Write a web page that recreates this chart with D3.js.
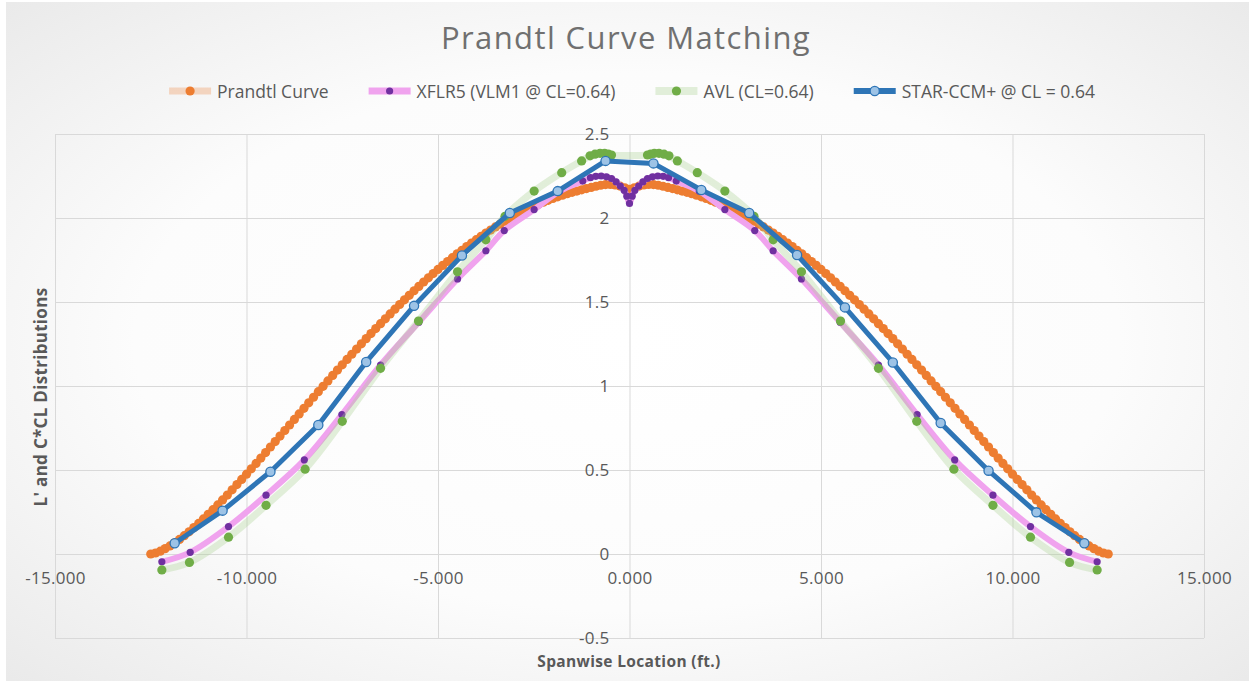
<!DOCTYPE html>
<html>
<head>
<meta charset="utf-8">
<script src="https://cdn.jsdelivr.net/npm/d3@7"></script>
<style>
  html, body { margin: 0; padding: 0; background: #ffffff; }
  svg { display: block; }
  text { font-family: "Open Sans", "Noto Sans", sans-serif; }
</style>
</head>
<body>
<svg id="chart" width="1253" height="684"></svg>
<script>
// ---- labels ----
const chartTitle = "Prandtl Curve Matching";
const xTitle = "Spanwise Location (ft.)";
const yTitle = "L' and C*CL Distributions";
const xTicks = [-15, -10, -5, 0, 5, 10, 15];
const yTicks = [-0.5, 0, 0.5, 1, 1.5, 2, 2.5];
const seriesNames = ["Prandtl Curve", "XFLR5 (VLM1 @ CL=0.64)", "AVL (CL=0.64)", "STAR-CCM+ @ CL = 0.64"];

// ---- Prandtl bell curve, stations every 0.125 ft from -12.5 to 12.5 ----
const prandtlX = d3.range(201).map(i => -12.5 + i * 0.125);
const prandtlY = [
  0, 0.006, 0.017, 0.032, 0.048, 0.067, 0.087, 0.109, 0.132, 0.157,
  0.182, 0.209, 0.236, 0.264, 0.292, 0.322, 0.351, 0.382, 0.413, 0.444,
  0.475, 0.507, 0.539, 0.571, 0.604, 0.637, 0.669, 0.702, 0.735, 0.768,
  0.801, 0.834, 0.867, 0.900, 0.933, 0.966, 0.998, 1.030, 1.063, 1.095,
  1.126, 1.158, 1.189, 1.220, 1.251, 1.282, 1.312, 1.342, 1.371, 1.400,
  1.429, 1.457, 1.485, 1.513, 1.540, 1.567, 1.593, 1.619, 1.644, 1.669,
  1.694, 1.718, 1.741, 1.764, 1.787, 1.808, 1.830, 1.851, 1.871, 1.891,
  1.910, 1.928, 1.947, 1.964, 1.981, 1.997, 2.013, 2.028, 2.042, 2.056,
  2.069, 2.082, 2.094, 2.105, 2.116, 2.126, 2.136, 2.145, 2.153, 2.160,
  2.168, 2.175, 2.182, 2.189, 2.195, 2.199, 2.200, 2.197, 2.190, 2.180,
  2.170,
  2.180, 2.190, 2.197, 2.200, 2.199, 2.195, 2.189, 2.182, 2.175, 2.168,
  2.160, 2.153, 2.145, 2.136, 2.126, 2.116, 2.105, 2.094, 2.082, 2.069,
  2.056, 2.042, 2.028, 2.013, 1.997, 1.981, 1.964, 1.947, 1.928, 1.910,
  1.891, 1.871, 1.851, 1.830, 1.808, 1.787, 1.764, 1.741, 1.718, 1.694,
  1.669, 1.644, 1.619, 1.593, 1.567, 1.540, 1.513, 1.485, 1.457, 1.429,
  1.400, 1.371, 1.342, 1.312, 1.282, 1.251, 1.220, 1.189, 1.158, 1.126,
  1.095, 1.063, 1.030, 0.998, 0.966, 0.933, 0.900, 0.867, 0.834, 0.801,
  0.768, 0.735, 0.702, 0.669, 0.637, 0.604, 0.571, 0.539, 0.507, 0.475,
  0.444, 0.413, 0.382, 0.351, 0.322, 0.292, 0.264, 0.236, 0.209, 0.182,
  0.157, 0.132, 0.109, 0.087, 0.067, 0.048, 0.032, 0.017, 0.006, 0
];

// ---- XFLR5 VLM1 ----
const xflrX = [
  -12.21, -11.47, -10.47, -9.49, -8.49, -7.51, -6.50, -5.50, -4.49, -3.75, -3.27, -2.49, -1.82, -1.22,
  -1.02, -0.88, -0.74, -0.60, -0.47, -0.35, -0.24, -0.14, -0.07, 0,
  0.07, 0.14, 0.24, 0.35, 0.47, 0.60, 0.74, 0.88, 1.02,
  1.22, 1.82, 2.49, 3.27, 3.75, 4.49, 5.50, 6.50, 7.51, 8.49, 9.49, 10.47, 11.47, 12.21
];
const xflrY = [
  -0.046, 0.010, 0.163, 0.350, 0.560, 0.830, 1.125, 1.380, 1.637, 1.805, 1.925, 2.050, 2.160, 2.220,
  2.240, 2.248, 2.250, 2.245, 2.235, 2.215, 2.190, 2.165, 2.130, 2.087,
  2.130, 2.165, 2.190, 2.215, 2.235, 2.245, 2.250, 2.248, 2.240,
  2.220, 2.160, 2.050, 1.925, 1.805, 1.637, 1.380, 1.125, 0.830, 0.560, 0.350, 0.163, 0.010, -0.046
];

// ---- AVL ----
const avlX = [
  -12.21, -11.49, -10.47, -9.49, -8.47, -7.50, -6.50, -5.51, -4.49, -3.75, -3.25, -2.49, -1.77, -1.25,
  -1.03, -0.90, -0.77, -0.65, -0.55, -0.47,
  0.47, 0.55, 0.65, 0.77, 0.90, 1.03,
  1.25, 1.77, 2.49, 3.25, 3.75, 4.49, 5.51, 6.50, 7.50, 8.47, 9.49, 10.47, 11.49, 12.21
];
const avlY = [
  -0.095, -0.050, 0.100, 0.290, 0.505, 0.790, 1.105, 1.387, 1.680, 1.870, 2.010, 2.160, 2.270, 2.340,
  2.370, 2.380, 2.385, 2.385, 2.380, 2.375,
  2.375, 2.380, 2.385, 2.385, 2.380, 2.370,
  2.340, 2.270, 2.160, 2.010, 1.870, 1.680, 1.387, 1.105, 0.790, 0.505, 0.290, 0.100, -0.050, -0.095
];

// ---- STAR-CCM+ ----
const starX = [
  -11.875, -10.625, -9.375, -8.125, -6.875, -5.625, -4.375, -3.125, -1.875, -0.625,
  0.625, 1.875, 3.125, 4.375, 5.625, 6.875, 8.125, 9.375, 10.625, 11.875
];
const starY = [
  0.064, 0.258, 0.490, 0.768, 1.143, 1.477, 1.777, 2.030, 2.160, 2.340,
  2.325, 2.167, 2.030, 1.780, 1.468, 1.140, 0.780, 0.496, 0.248, 0.064
];

// ---- drawing ----
const W = 1253, H = 684;
const plot = { left: 55, right: 1204, top: 134, bottom: 638 };
const svg = d3.select("#chart");

const defs = svg.append("defs");
const grad = defs.append("radialGradient").attr("id", "bg")
  .attr("cx", "50%").attr("cy", "50%").attr("r", "72%");
grad.append("stop").attr("offset", "0%").attr("stop-color", "#ffffff");
grad.append("stop").attr("offset", "55%").attr("stop-color", "#fcfcfc");
grad.append("stop").attr("offset", "100%").attr("stop-color", "#e9e9e9");
svg.append("rect").attr("x", 6).attr("y", 2).attr("width", W - 10).attr("height", H - 5)
  .attr("fill", "url(#bg)");

const x = d3.scaleLinear().domain([-15, 15]).range([plot.left, plot.right]);
const y = d3.scaleLinear().domain([-0.5, 2.5]).range([plot.bottom, plot.top]);

// gridlines
const grid = svg.append("g");
grid.append("g").attr("transform", `translate(0,${plot.bottom})`)
  .call(d3.axisBottom(x).tickValues(xTicks).tickSize(-(plot.bottom - plot.top)).tickFormat(""))
  .call(g => g.select(".domain").remove());
grid.append("g").attr("transform", `translate(${plot.left},0)`)
  .call(d3.axisLeft(y).tickValues(yTicks).tickSize(-(plot.right - plot.left)).tickFormat(""))
  .call(g => g.select(".domain").remove());
grid.selectAll("line").attr("stroke", "#d9d9d9").attr("stroke-width", 1);

// series styles
const styles = [
  { line: "#ED7D31", lineOpacity: 0.28, width: 6, fill: "#ED7D31", stroke: "none", r: 4.6, curve: d3.curveCatmullRom },
  { line: "#F0A3EE", lineOpacity: 1, width: 6, fill: "#7030A0", stroke: "none", r: 3.6, curve: d3.curveCatmullRom },
  { line: "#A9D18E", lineOpacity: 0.32, width: 7, fill: "#70AD47", stroke: "none", r: 4.6, curve: d3.curveCatmullRom },
  { line: "#2E75B6", lineOpacity: 1, width: 5, fill: "#9DC3E6", stroke: "#2E75B6", r: 4.6, curve: d3.curveLinear }
];
const series = [
  { xs: prandtlX, ys: prandtlY },
  { xs: xflrX, ys: xflrY },
  { xs: avlX, ys: avlY },
  { xs: starX, ys: starY }
];

const marks = svg.append("g");
series.forEach((s, i) => {
  const st = styles[i];
  const pts = s.xs.map((v, j) => [v, s.ys[j]]);
  const line = d3.line().x(d => x(d[0])).y(d => y(d[1])).curve(st.curve);
  const g = marks.append("g");
  g.append("path").datum(pts).attr("d", line)
    .attr("fill", "none").attr("stroke", st.line).attr("stroke-opacity", st.lineOpacity)
    .attr("stroke-width", st.width).attr("stroke-linejoin", "round").attr("stroke-linecap", "round");
  g.selectAll("circle").data(pts).join("circle")
    .attr("cx", d => x(d[0])).attr("cy", d => y(d[1])).attr("r", st.r)
    .attr("fill", st.fill).attr("stroke", st.stroke).attr("stroke-width", st.stroke === "none" ? 0 : 1.3);
});

// tick labels: x labels hang below the y = 0 line, y labels sit left of x = 0
const tickColor = "#595959";
const tickFont = g => g.selectAll("text").attr("fill", tickColor)
  .style("font-size", "17px").style("letter-spacing", "0.3px");
svg.append("g").attr("transform", `translate(0,${y(0)})`)
  .call(d3.axisBottom(x).tickValues(xTicks).tickSize(0).tickPadding(18).tickFormat(d => d.toFixed(3)))
  .call(g => g.select(".domain").remove())
  .call(tickFont);
svg.append("g").attr("transform", `translate(${x(0)},0)`)
  .call(d3.axisLeft(y).tickValues(yTicks).tickSize(0).tickPadding(20).tickFormat(d => String(d)))
  .call(g => g.select(".domain").remove())
  .call(tickFont);

// titles
svg.append("text").attr("x", 626).attr("y", 37).attr("text-anchor", "middle")
  .attr("dominant-baseline", "central").attr("fill", "#707070")
  .style("font-size", "31px").style("letter-spacing", "1.4px").text(chartTitle);
svg.append("text").attr("x", 629).attr("y", 661).attr("text-anchor", "middle")
  .attr("dominant-baseline", "central").attr("fill", tickColor)
  .style("font-size", "15.5px").style("font-weight", "bold").style("letter-spacing", "0.35px").text(xTitle);
svg.append("text").attr("transform", "translate(40,397) rotate(-90)").attr("text-anchor", "middle")
  .attr("dominant-baseline", "central").attr("fill", tickColor)
  .style("font-size", "17px").style("font-weight", "bold").style("letter-spacing", "0.3px").text(yTitle);

// legend
const legend = svg.append("g");
const sampleLen = 42, textGap = 6, itemGap = 40, legendY = 91;
const items = seriesNames.map((name, i) => {
  const t = legend.append("text").attr("y", legendY).attr("dominant-baseline", "central")
    .attr("fill", tickColor).style("font-size", "17.5px").text(name);
  return { t, w: t.node().getComputedTextLength(), i };
});
const total = d3.sum(items, d => sampleLen + textGap + d.w) + itemGap * (items.length - 1);
let cx = 632 - total / 2;
items.forEach(d => {
  const st = styles[d.i];
  legend.append("line").attr("x1", cx).attr("x2", cx + sampleLen).attr("y1", legendY).attr("y2", legendY)
    .attr("stroke", st.line).attr("stroke-opacity", st.lineOpacity).attr("stroke-width", st.width + 1);
  legend.append("circle").attr("cx", cx + sampleLen / 2).attr("cy", legendY).attr("r", st.r)
    .attr("fill", st.fill).attr("stroke", st.stroke).attr("stroke-width", st.stroke === "none" ? 0 : 1.3);
  d.t.attr("x", cx + sampleLen + textGap);
  cx += sampleLen + textGap + d.w + itemGap;
});
</script>
</body>
</html>
